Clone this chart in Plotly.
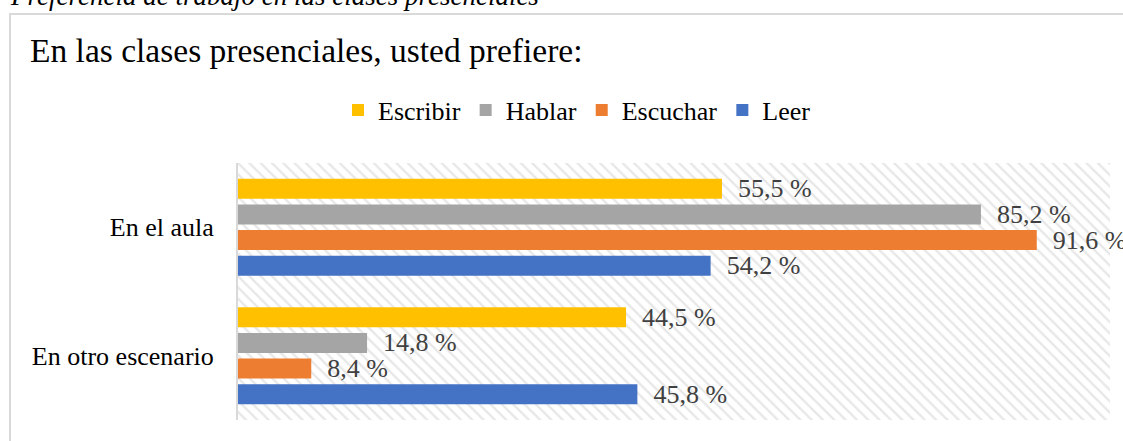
import plotly.graph_objects as go

categories = ["En el aula", "En otro escenario"]
series_names = ["Escribir", "Hablar", "Escuchar", "Leer"]
escribir = [55.5, 44.5]
hablar = [85.2, 14.8]
escuchar = [91.6, 8.4]
leer = [54.2, 45.8]
colors = {"Escribir": "#FFC000", "Hablar": "#A5A5A5", "Escuchar": "#ED7D31", "Leer": "#4472C4"}
values = {"Escribir": escribir, "Hablar": hablar, "Escuchar": escuchar, "Leer": leer}

W, H = 1123, 441
ML, MR, MT, MB = 238, 13, 163, 21
PW, PH = W - ML - MR, H - MT - MB

def px_x(p):
    return (p - ML) / PW

def px_y(p):
    return (H - MB - p) / PH

SERIF = "Liberation Serif, Times New Roman, serif"

fig = go.Figure()

# hatched plot background on base axes
fig.add_trace(go.Bar(
    x=[1], y=[0], width=[1], orientation="h", base=[0],
    marker=dict(color="white", line=dict(width=0),
                pattern=dict(shape="\\", fgcolor="#d0d0d0", bgcolor="white", size=8, solidity=0.3)),
    hoverinfo="skip", showlegend=False, xaxis="x", yaxis="y"))

def fmt(v):
    return "  " + f"{v:.1f}".replace(".", ",") + " %"

for name in reversed(series_names):
    vals = values[name]
    fig.add_trace(go.Bar(
        name=name, x=vals, y=categories, orientation="h",
        marker=dict(color=colors[name], line=dict(width=0)),
        text=[fmt(v) for v in vals], textposition="outside",
        textfont=dict(family=SERIF, size=26, color="#404040"),
        cliponaxis=False, constraintext="none",
        xaxis="x2", yaxis="y2"))

fig.update_layout(
    width=W, height=H,
    margin=dict(l=ML, r=MR, t=MT, b=MB, autoexpand=False),
    paper_bgcolor="white", plot_bgcolor="white",
    barmode="group", bargap=0.2, bargroupgap=0.22,
    font=dict(family=SERIF, color="#000000"),
    title=dict(text="En las clases presenciales, usted prefiere:",
               x=30 / W, xref="container", xanchor="left",
               y=1 - 50 / H, yref="container", yanchor="middle",
               font=dict(family=SERIF, size=33.5, color="#000000")),
    legend=dict(orientation="h", traceorder="reversed",
                x=px_x(577), xanchor="center", y=px_y(110), yanchor="middle",
                font=dict(family=SERIF, size=26, color="#000000"),
                itemwidth=30, bgcolor="rgba(0,0,0,0)"),
    xaxis=dict(range=[0, 1], visible=False, fixedrange=True),
    yaxis=dict(range=[-0.5, 0.5], visible=False, fixedrange=True),
    xaxis2=dict(overlaying="x", range=[0, 100], visible=False),
    yaxis2=dict(overlaying="y", side="left", type="category",
                categoryorder="array", categoryarray=list(reversed(categories)),
                showline=True, linecolor="#d9d9d9", linewidth=2,
                showgrid=False, ticks="", ticklabelstandoff=17,
                tickfont=dict(family=SERIF, size=26, color="#000000")),
    shapes=[dict(type="rect", xref="paper", yref="paper",
                 x0=px_x(10), x1=px_x(1135), y0=px_y(450), y1=px_y(14),
                 line=dict(color="#d9d9d9", width=2), fillcolor="rgba(0,0,0,0)",
                 layer="below")],
    annotations=[dict(text="<i>Preferencia de trabajo en las clases presenciales</i>",
                      xref="paper", yref="paper", x=px_x(8), y=px_y(13),
                      xanchor="left", yanchor="bottom", showarrow=False,
                      font=dict(family=SERIF, size=27, color="#000000"))],
)

fig.write_html("out.html", config={"displayModeBar": False})
with open("out.html", encoding="utf-8") as f:
    html = f.read()
html = html.replace("<head>", "<head><style>html,body{margin:0;padding:0;}</style>", 1)
with open("out.html", "w", encoding="utf-8") as f:
    f.write(html)
